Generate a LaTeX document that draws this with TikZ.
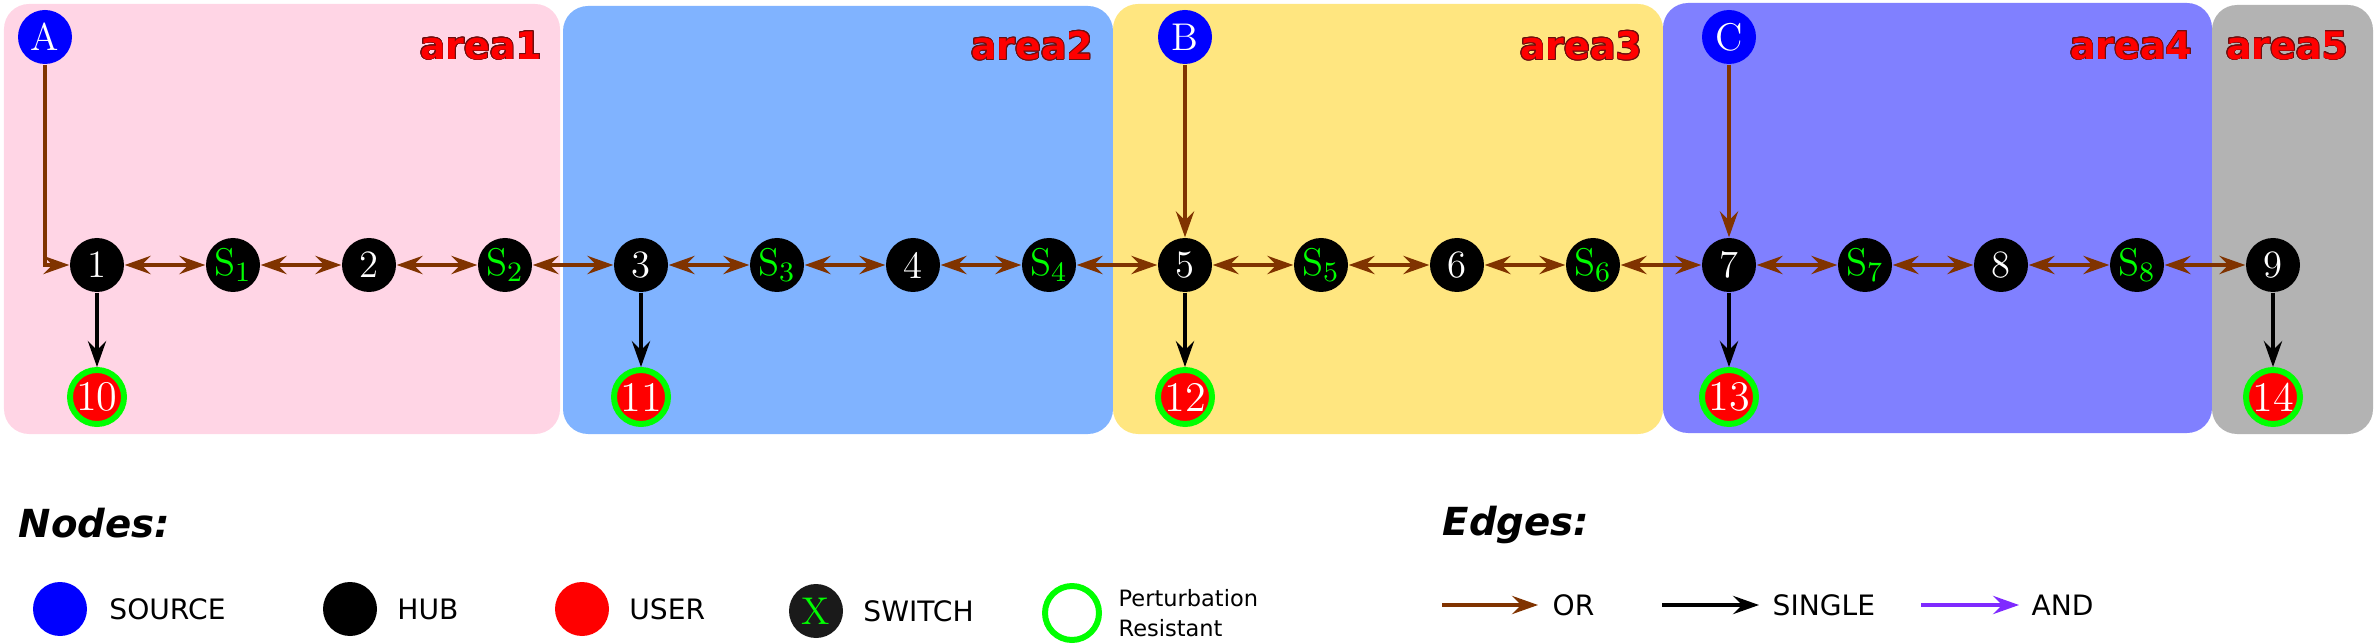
\documentclass[tikz,border=0pt]{standalone}
\usepackage{fontspec}
\setsansfont{DejaVu Sans}
\usepackage{contour}
\usepackage{tikz}
\usetikzlibrary{positioning, arrows.meta}
\definecolor{pinkarea}{HTML}{FFD5E5}
\definecolor{bluearea}{HTML}{80B3FF}
\definecolor{yellowarea}{HTML}{FFE680}
\definecolor{violetarea}{HTML}{8080FF}
\definecolor{grayarea}{HTML}{B3B3B3}
\definecolor{orbrown}{HTML}{803300}
\definecolor{andviolet}{HTML}{7F2AFF}
\definecolor{pgreen}{HTML}{00FF00}
\definecolor{labeldark}{HTML}{6A1010}
\definecolor{switchgray}{HTML}{1A1A1A}
\contourlength{0.22pt}
\tikzset{
  >={Stealth[length=7.4pt,width=5.2pt,inset=2.6pt]},
  node distance=1.36cm,
  every node/.style={inner sep=0pt},
  source/.style={circle, fill=blue, text=white, minimum size=0.54cm, font=\fontsize{11}{13}\selectfont},
  hub/.style={circle, fill=black, text=white, minimum size=0.54cm, font=\fontsize{11}{13}\selectfont},
  switch/.style={circle, fill=black, text=pgreen, minimum size=0.54cm, font=\fontsize{11}{13}\selectfont},
  user/.style={circle, fill=red, draw=pgreen, line width=1.7pt, text=white,
    minimum size=0.54cm, font=\fontsize{12}{14}\selectfont},
  oredge/.style={draw=orbrown, line width=1pt},
  singleedge/.style={draw=black, line width=1pt},
  andedge/.style={draw=andviolet, line width=1pt},
  arealabel/.style={anchor=east, text=red, font=\sffamily\bfseries\fontsize{10.8}{13}\selectfont},
  legendtext/.style={anchor=west, font=\sffamily\fontsize{8}{10}\selectfont},
  legendhead/.style={anchor=west, font=\sffamily\bfseries\itshape\fontsize{11}{13}\selectfont},
}

\begin{document}
\begin{tikzpicture}
      \useasboundingbox (0,0) rectangle (23.75,-6.44);

      % areas
      \fill[pinkarea, rounded corners=0.25cm]   (0.04,-0.04) rectangle (5.60,-4.34);
      \fill[bluearea, rounded corners=0.25cm]   (5.63,-0.06) rectangle (11.13,-4.34);
      \fill[yellowarea, rounded corners=0.25cm] (11.13,-0.04) rectangle (16.63,-4.34);
      \fill[violetarea, rounded corners=0.25cm] (16.63,-0.03) rectangle (22.12,-4.33);
      \fill[grayarea, rounded corners=0.25cm]   (22.12,-0.05) rectangle (23.73,-4.34);

      \node[arealabel] (l1) at (5.43,-0.46)  {\contour{labeldark}{area1}};
      \node[arealabel] (l2) at (10.94,-0.46) {\contour{labeldark}{area2}};
      \node[arealabel] (l3) at (16.43,-0.46) {\contour{labeldark}{area3}};
      \node[arealabel] (l4) at (21.93,-0.46) {\contour{labeldark}{area4}};
      \node[arealabel] (l5) at (23.49,-0.46) {\contour{labeldark}{area5}};

      \node[source]               (A)  at (0.45,-0.37) {A};
      \node[hub]                  (n1) at (0.97,-2.65) {1};
      \node[switch,right of=n1]   (s1) {$\mathrm{S}_1$};
      \node[hub,right of=s1]      (n2) {2};
      \node[switch,right of=n2]   (s2) {$\mathrm{S}_2$};
      \node[hub,right of=s2]      (n3) {3};
      \node[switch,right of=n3]   (s3) {$\mathrm{S}_3$};
      \node[hub,right of=s3]      (n4) {4};
      \node[switch,right of=n4]   (s4) {$\mathrm{S}_4$};
      \node[hub,right of=s4]      (n5) {5};
      \node[switch,right of=n5]   (s5) {$\mathrm{S}_5$};
      \node[hub,right of=s5]      (n6) {6};
      \node[switch,right of=n6]   (s6) {$\mathrm{S}_6$};
      \node[hub,right of=s6]      (n7) {7};
      \node[switch,right of=n7]   (s7) {$\mathrm{S}_7$};
      \node[hub,right of=s7]      (n8) {8};
      \node[switch,right of=n8]   (s8) {$\mathrm{S}_8$};
      \node[hub,right of=s8]      (n9) {9};

      \node[source,above of=n5,node distance=2.28cm] (B) {B};
      \node[source,above of=n7,node distance=2.28cm] (C) {C};

      \node[user,below of=n1,node distance=1.32cm] (u10) {10};
      \node[user,below of=n3,node distance=1.32cm] (u11) {11};
      \node[user,below of=n5,node distance=1.32cm] (u12) {12};
      \node[user,below of=n7,node distance=1.32cm] (u13) {13};
      \node[user,below of=n9,node distance=1.32cm] (u14) {14};

      \draw[oredge,->] (A) |- (n1);
      \draw (B) edge[oredge,->] (n5)
            (C) edge[oredge,->] (n7);
      \draw (n1) edge[oredge,<->] (s1)
            (s1) edge[oredge,<->] (n2)
            (n2) edge[oredge,<->] (s2)
            (s2) edge[oredge,<->] (n3)
            (n3) edge[oredge,<->] (s3)
            (s3) edge[oredge,<->] (n4)
            (n4) edge[oredge,<->] (s4)
            (s4) edge[oredge,<->] (n5)
            (n5) edge[oredge,<->] (s5)
            (s5) edge[oredge,<->] (n6)
            (n6) edge[oredge,<->] (s6)
            (s6) edge[oredge,<->] (n7)
            (n7) edge[oredge,<->] (s7)
            (s7) edge[oredge,<->] (n8)
            (n8) edge[oredge,<->] (s8)
            (s8) edge[oredge,<->] (n9);
      \draw (n1) edge[singleedge,->] (u10)
            (n3) edge[singleedge,->] (u11)
            (n5) edge[singleedge,->] (u12)
            (n7) edge[singleedge,->] (u13)
            (n9) edge[singleedge,->] (u14);

      % legend
      \node[legendhead] (nodeshead) at (0.18,-5.23) {Nodes:};
      \node[source] (lsource) at (0.60,-6.09) {};
      \node[legendtext,right=0.21cm of lsource] (tsource) {SOURCE};
      \node[hub] (lhub) at (3.50,-6.09) {};
      \node[legendtext,right=0.19cm of lhub] (thub) {HUB};
      \node[circle,fill=red,minimum size=0.54cm] (luser) at (5.82,-6.09) {};
      \node[legendtext,right=0.19cm of luser] (tuser) {USER};
      \node[switch,fill=switchgray] (lswitch) at (8.16,-6.11) {X};
      \node[legendtext,right=0.19cm of lswitch] (tswitch) {SWITCH};
      \node[circle,draw=pgreen,fill=white,line width=1.7pt,minimum size=0.54cm] (lring) at (10.72,-6.13) {};
      \node[legendtext,right=0.16cm of lring,align=left,font=\sffamily\fontsize{6.4}{8.5}\selectfont] (tring) {Perturbation\\Resistant};

      \node[legendhead] (edgeshead) at (14.42,-5.25) {Edges:};
      \coordinate (or0) at (14.42,-6.05);
      \coordinate (or1) at (15.38,-6.05);
      \coordinate (single0) at (16.62,-6.05);
      \coordinate (single1) at (17.59,-6.05);
      \coordinate (and0) at (19.21,-6.05);
      \coordinate (and1) at (20.19,-6.05);
      \draw (or0) edge[oredge,->] (or1)
            (single0) edge[singleedge,->] (single1)
            (and0) edge[andedge,->] (and1);
      \node[legendtext] (tor) at (15.52,-6.05) {OR};
      \node[legendtext] (tsingle) at (17.72,-6.05) {SINGLE};
      \node[legendtext] (tand) at (20.31,-6.05) {AND};
\end{tikzpicture}
\end{document}
